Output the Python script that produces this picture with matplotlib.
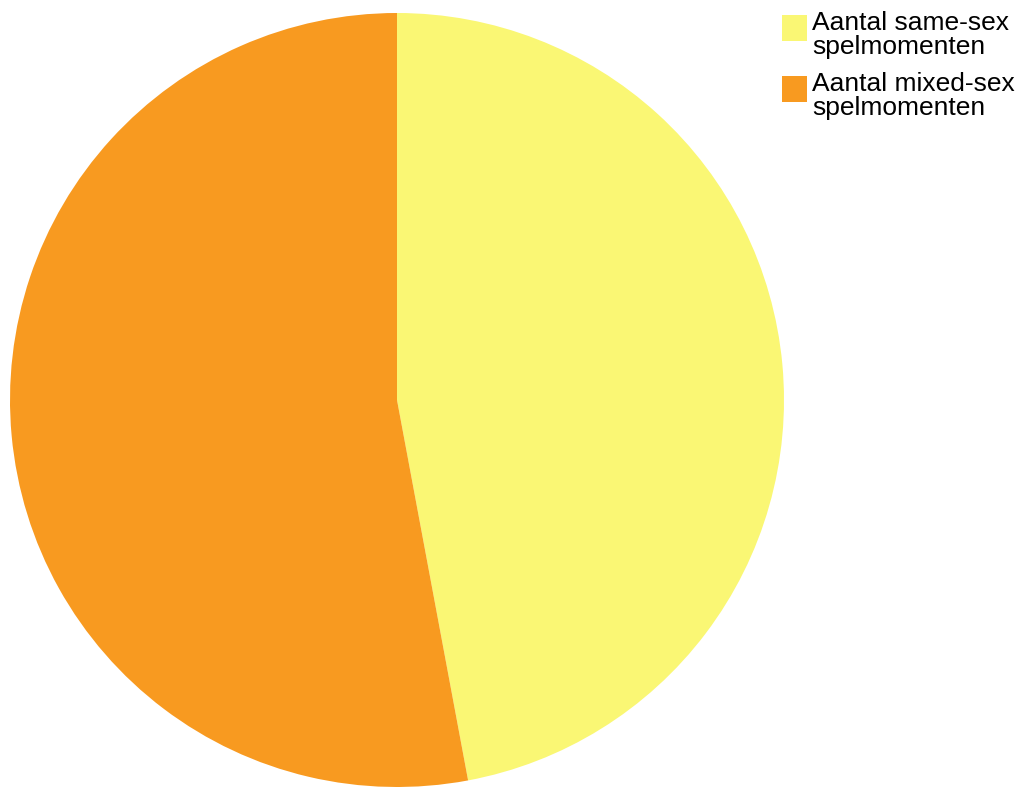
import matplotlib
matplotlib.use("Agg")
import matplotlib.pyplot as plt
from matplotlib.patches import Rectangle

labels = ["Aantal same-sex\nspelmomenten", "Aantal mixed-sex\nspelmomenten"]
values = [8, 9]
colors = ["#FAF774", "#F89A20"]

W, H = 1021, 787
plt.rcParams["font.family"] = ["Liberation Sans", "DejaVu Sans"]

fig = plt.figure(figsize=(W / 100, H / 100), dpi=100)
ax = fig.add_axes([10 / W, 0, 774 / W, 774 / H])
ax.pie(values, colors=colors, startangle=90, counterclock=False, radius=1,
       wedgeprops={"linewidth": 0})
ax.set_xlim(-1, 1)
ax.set_ylim(-1, 1)
ax.axis("off")

# legend drawn by hand to match the spacing
for i, (lab, col) in enumerate(zip(labels, colors)):
    top = 15 + i * 61
    fig.patches.append(Rectangle((782 / W, 1 - (top + 26) / H), 25 / W, 26 / H,
                                 transform=fig.transFigure, facecolor=col, edgecolor="none"))
    for j, line in enumerate(lab.split("\n")):
        base = 30 + i * 61 + j * 24
        fig.text(812 / W, 1 - base / H, line, fontsize=19, va="baseline", ha="left", color="black")

fig.savefig("out.png", dpi=100)
